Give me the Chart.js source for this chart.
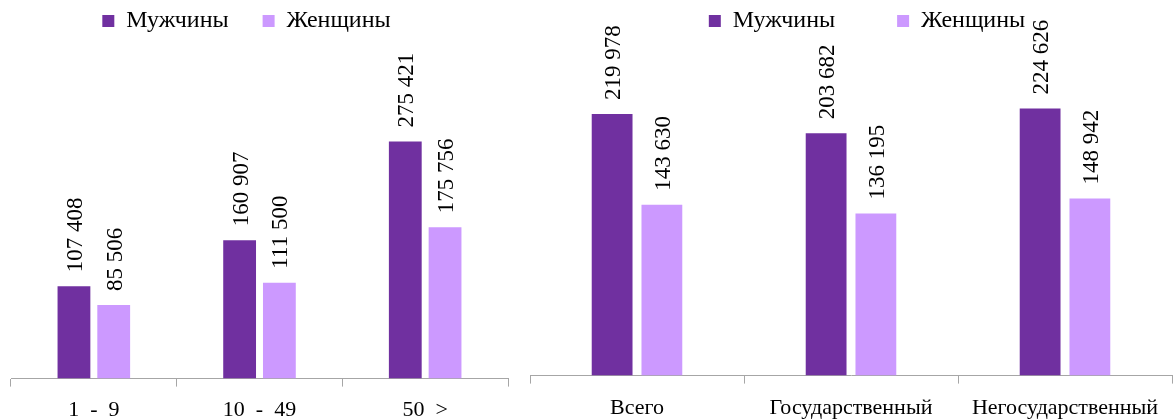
<!DOCTYPE html>
<html>
<head>
<meta charset="utf-8">
<script src="https://cdn.jsdelivr.net/npm/chart.js@4.4.0/dist/chart.umd.min.js"></script>
<style>
    html, body { margin: 0; padding: 0; background: #fff; }
    #wrap { position: relative; width: 1173px; height: 420px; overflow: hidden; }
    .box { position: absolute; top: 0; height: 420px; }
    #left-box { left: 0; width: 525px; }
    #right-box { left: 525px; width: 648px; }
</style>
</head>
<body>
<div id="wrap">
    <div class="box" id="left-box"><canvas id="size-chart"></canvas></div>
    <div class="box" id="right-box"><canvas id="sector-chart"></canvas></div>
</div>
<script>
const seriesNames = ["Мужчины", "Женщины"];
const seriesColors = ["#7030A0", "#CC99FF"];

const sizeLabels = ["1  -  9", "10  -  49", "50  >"];
const sizeMen = [107408, 160907, 275421];
const sizeWomen = [85506, 111500, 175756];

const sectorLabels = ["Всего", "Государственный", "Негосударственный"];
const sectorMen = [219978, 203682, 224626];
const sectorWomen = [143630, 136195, 148942];

const FONT = "'Liberation Serif', 'DejaVu Serif', serif";

function FormatNumber(v) {
    return String(v).replace(/\B(?=(\d{3})+(?!\d))/g, "\u00a0");
}

// values written vertically above each bar
const barValues = {
    id: "barValues",
    afterDatasetsDraw(chart) {
        const ctx = chart.ctx;
        ctx.save();
        ctx.font = "23px " + FONT;
        ctx.fillStyle = "#000";
        ctx.textAlign = "left";
        ctx.textBaseline = "middle";
        chart.data.datasets.forEach((ds, i) => {
            chart.getDatasetMeta(i).data.forEach((bar, j) => {
                ctx.save();
                ctx.translate(bar.x + 2, bar.y - 14);
                ctx.rotate(-Math.PI / 2);
                ctx.fillText(FormatNumber(ds.data[j]), 0, 0);
                ctx.restore();
            });
        });
        ctx.restore();
    }
};

// nudge the legend sideways, it is not centred over the plot in the original
const legendShift = {
    id: "legendShift",
    afterLayout(chart) {
        const dx = chart.options.legendShift || 0;
        chart.legend.left += dx;
        chart.legend.right += dx;
    }
};

function MakeChart(id, labels, men, women, opts) {
    const ctx = document.getElementById(id).getContext("2d");
    return new Chart(ctx, {
        type: "bar",
        data: {
            labels: labels,
            datasets: [men, women].map((d, i) => ({
                label: seriesNames[i],
                data: d,
                backgroundColor: seriesColors[i],
                borderWidth: 0,
                categoryPercentage: opts.catPct,
                barPercentage: opts.barPct
            }))
        },
        options: {
            responsive: true,
            maintainAspectRatio: false,
            animation: { duration: 0 },
            legendShift: opts.legendShift,
            layout: { padding: opts.padding },
            plugins: {
                tooltip: { enabled: false },
                legend: {
                    display: true,
                    position: "top",
                    labels: {
                        boxWidth: 12,
                        boxHeight: 12,
                        padding: opts.legendGap,
                        color: "#000",
                        font: { family: FONT, size: 24 }
                    }
                }
            },
            scales: {
                x: {
                    grid: {
                        offset: true,
                        drawOnChartArea: false,
                        drawTicks: true,
                        tickLength: 8,
                        color: "#a6a6a6"
                    },
                    border: { color: "#a6a6a6", width: 1 },
                    ticks: {
                        color: "#000",
                        padding: opts.tickPad,
                        maxRotation: 0,
                        autoSkip: false,
                        font: { family: FONT, size: 22 }
                    }
                },
                y: {
                    display: false,
                    min: 0,
                    max: opts.max
                }
            }
        },
        plugins: [barValues, legendShift]
    });
}

MakeChart("size-chart", sizeLabels, sizeMen, sizeWomen, {
    catPct: 0.48, barPct: 0.825, max: 390000, legendGap: 34, legendShift: -13, tickPad: 10,
    padding: { left: 11, right: 17, top: -25, bottom: -13 }
});

MakeChart("sector-chart", sectorLabels, sectorMen, sectorWomen, {
    catPct: 0.465, barPct: 0.82, max: 279600, legendGap: 62, legendShift: 16, tickPad: 11,
    padding: { left: 5, right: 1, top: -53, bottom: -12 }
});
</script>
</body>
</html>
